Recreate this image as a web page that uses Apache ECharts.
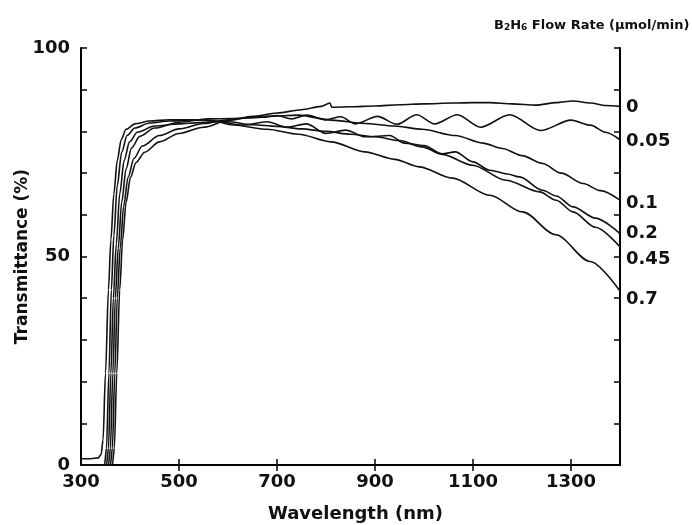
<!DOCTYPE html>
<html>
<head>
<meta charset="utf-8">
<script src="https://cdn.jsdelivr.net/npm/echarts@6/dist/echarts.min.js"></script>
<style>html,body{margin:0;padding:0;background:#fff}#c{width:692px;height:525px}</style>
</head>
<body>
<div id="c"></div>
<script>
// Flow rates (series names) and transmittance curves [wavelength nm, T %]
const flowRates = ["0", "0.05", "0.1", "0.2", "0.45", "0.7"];
const xTickLabels = [300, 500, 700, 900, 1100, 1300];
const xTickMarks = [500, 700, 900, 1100, 1300];
const yTickLabels = [0, 50, 100];

const curve0 = [[300,0],[340,0],[364,0],[368,4],[373,22],[379,42],[385,54],[392,63],[401,69],[412,72.5],[430,75],[460,77.5],[500,79.5],[550,81],[600,82.6],[650,83.6],[700,84.4],[750,85.2],[790,86],[808,86.8],[812,85.8],[850,85.9],[900,86.1],[950,86.4],[1000,86.6],[1058,86.8],[1100,86.9],[1134,86.9],[1180,86.6],[1228,86.3],[1270,86.9],[1304,87.3],[1340,86.8],[1370,86.2],[1400,86]];
const curve005 = [[300,0],[345,0],[360,0],[364,4],[369,22],[374,40],[380,52],[387,62],[396,69],[408,73.5],[425,76.5],[460,79],[500,80.6],[550,81.9],[600,82.8],[640,83.2],[670,83.4],[700,83.8],[730,83],[760,83.9],[800,82.8],[830,83.5],[860,81.8],[905,83.6],[945,81.7],[985,84],[1022,81.8],[1068,84],[1115,81],[1175,84],[1238,80.2],[1300,82.7],[1340,81.5],[1370,79.8],[1400,78]];
const curve01 = [[300,0],[350,0],[356,0],[360,4],[365,22],[370,40],[376,52],[383,63],[392,71],[403,76],[420,78.8],[450,80.8],[500,82.2],[560,83],[606,83.1],[680,83.6],[744,83.9],[811,82.7],[879,81.9],[940,81.3],[996,80.5],[1064,79],[1120,77.2],[1160,75.9],[1200,74.2],[1242,72.3],[1280,70],[1325,67.5],[1360,65.8],[1400,63.5]];
const curve02 = [[300,0],[348,0],[352,0],[356,4],[361,22],[366,40],[372,53],[379,65],[388,73],[399,77.5],[415,79.8],[450,81.3],[500,81.8],[540,82.1],[580,82.3],[630,81.5],[680,82.3],[720,81],[760,81.8],[800,79.5],[840,80.3],[880,78.7],[930,79],[960,77.2],[1000,76.6],[1037,74.6],[1064,75.1],[1100,72.7],[1134,70.7],[1170,69.8],[1195,69.1],[1242,65.9],[1270,64.5],[1304,61.9],[1350,59.2],[1400,55.5]];
const curve045 = [[300,0],[345,0],[348,0],[352,4],[357,22],[362,42],[367,55],[374,67],[383,75],[394,79],[410,80.8],[440,82],[480,82.5],[540,82.8],[600,82.3],[650,81.6],[700,81.2],[750,80.6],[800,80],[850,79.3],[900,78.7],[950,77.8],[996,76.3],[1037,74.5],[1099,71.9],[1167,68.3],[1236,65.5],[1270,63.5],[1304,60.7],[1350,57],[1400,52.3]];
const curve07 = [[300,1.5],[320,1.5],[335,1.7],[341,2.5],[345,6],[350,22],[356,42],[361,54],[367,65],[374,73],[382,78],[392,80.5],[410,81.8],[440,82.5],[480,82.8],[530,82.8],[570,82.5],[606,81.6],[680,80.5],[744,79.3],[810,77.5],[879,75.1],[940,73.3],[990,71.5],[1058,68.8],[1134,64.7],[1201,60.7],[1269,55.2],[1339,48.8],[1400,41.7]];

const curves = [curve0, curve005, curve01, curve02, curve045, curve07];
const labelOffsets = [[0,1],[0,2],[0,3],[0,0],[0,12],[0,8]];

const FONT = "DejaVu Sans";
const chart = echarts.init(document.getElementById('c'), null, {renderer: 'canvas'});

const axisLineStyle = {color: '#000', width: 2};
chart.setOption({
  animation: false,
  backgroundColor: '#fff',
  title: {
    left: 489, top: 9,
    text: '{b|B}{s|2}{b|H}{s|6}{b| Flow Rate (μmol/min)}',
    textStyle: {
      rich: {
        b: {fontFamily: FONT, fontWeight: 'bold', fontSize: 13, color: '#111', verticalAlign: 'bottom', lineHeight: 18},
        s: {fontFamily: FONT, fontWeight: 'bold', fontSize: 9, color: '#111', verticalAlign: 'bottom', lineHeight: 14}
      }
    }
  },
  grid: {left: 81, right: 72, top: 48, bottom: 60, containLabel: false, outerBoundsMode: 'none'},
  xAxis: [{
    type: 'value', min: 300, max: 1400, position: 'bottom',
    name: 'Wavelength (nm)', nameLocation: 'middle', nameGap: 40,
    nameTextStyle: {fontFamily: FONT, fontWeight: 'bold', fontSize: 18, color: '#111', padding: [0, 0, 0, 10]},
    axisLine: {show: true, lineStyle: axisLineStyle},
    axisTick: {show: true, inside: true, length: 6, customValues: xTickMarks, lineStyle: {color: '#000', width: 1.5}},
    axisLabel: {customValues: xTickLabels, margin: 8, fontFamily: FONT, fontWeight: 'bold', fontSize: 18, color: '#111',
      formatter: v => String(v)},
    splitLine: {show: false}
  }, {
    type: 'value', min: 300, max: 1400, position: 'top',
    axisLine: {show: true, lineStyle: axisLineStyle},
    axisTick: {show: true, inside: true, length: 6, customValues: xTickMarks, lineStyle: {color: '#000', width: 1.5}},
    axisLabel: {show: false},
    splitLine: {show: false}
  }],
  yAxis: [{
    type: 'value', min: 0, max: 100, interval: 10, position: 'left',
    name: 'Transmittance (%)', nameLocation: 'middle', nameGap: 50, nameRotate: 90,
    nameMoveOverlap: false,
    nameTextStyle: {fontFamily: FONT, fontWeight: 'bold', fontSize: 17, color: '#111'},
    axisLine: {show: true, lineStyle: axisLineStyle},
    axisTick: {show: true, inside: true, length: 6, lineStyle: {color: '#000', width: 1.5}},
    axisLabel: {margin: 11, fontFamily: FONT, fontWeight: 'bold', fontSize: 18, color: '#111',
      formatter: v => (yTickLabels.indexOf(v) >= 0 ? String(v) : '')},
    splitLine: {show: false}
  }, {
    type: 'value', min: 0, max: 100, interval: 10, position: 'right',
    axisLine: {show: true, lineStyle: axisLineStyle},
    axisTick: {show: true, inside: true, length: 6, lineStyle: {color: '#000', width: 1.5}},
    axisLabel: {show: false},
    splitLine: {show: false}
  }],
  series: curves.map((d, i) => ({
    type: 'line', name: flowRates[i], data: d,
    xAxisIndex: 0, yAxisIndex: 0,
    showSymbol: false, symbol: 'none',
    smooth: 0.3, smoothMonotone: 'x',
    lineStyle: {color: '#111', width: 1.6},
    endLabel: {
      show: true, formatter: '{a}', distance: 6, offset: labelOffsets[i],
      fontFamily: FONT, fontWeight: 'bold', fontSize: 18, color: '#111'
    },
    silent: true
  }))
});
</script>
</body>
</html>
